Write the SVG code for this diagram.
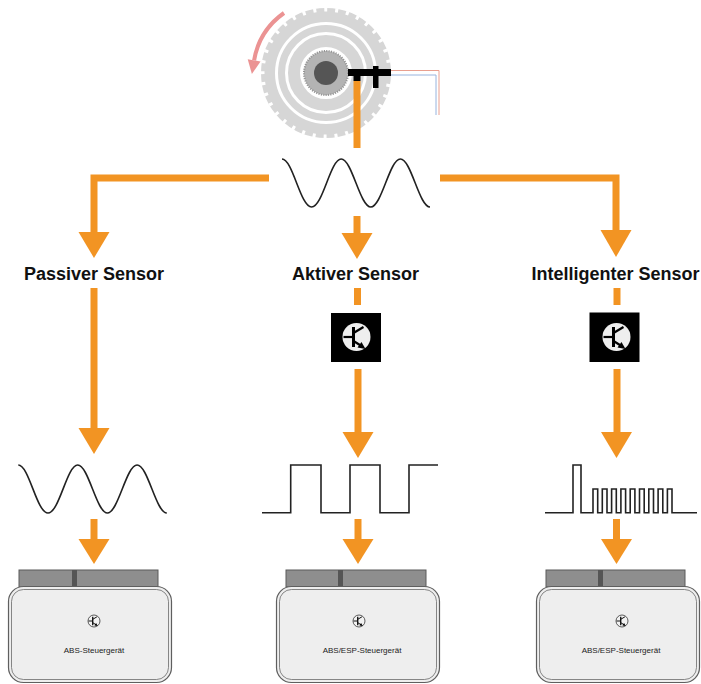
<svg xmlns="http://www.w3.org/2000/svg" xmlns:xlink="http://www.w3.org/1999/xlink" width="701" height="684" viewBox="0 0 701 684">
  <style>
    .flow { fill: none; stroke: #F29423; stroke-width: 7; stroke-linejoin: miter; }
    .head { fill: #F29423; }
    .sig { fill: none; stroke: #222; stroke-width: 1.6; stroke-linejoin: miter; }
    .label { font-family: "Liberation Sans", Arial, sans-serif; font-weight: bold; font-size: 18px; fill: #111; text-anchor: middle; }
    .ecu-text { font-family: "Liberation Sans", Arial, sans-serif; font-size: 8px; fill: #222; text-anchor: middle; }
    .plug { fill: #8e8e8e; stroke: #5a5a5a; stroke-width: 1; }
    .plug-key { fill: #555; }
    .case { fill: #eeeeee; stroke: #5f5f5f; stroke-width: 1.2; }
    .case-inner { fill: none; stroke: #6a6a6a; stroke-width: 0.8; }
    .ring { fill: none; stroke: #d6d6d6; }
  </style>
  <defs>
    <!-- transistor glyph, centred on 0,0, drawn for a circle of radius 14 -->
    <g id="tr-glyph">
      <path d="M-13,0 H-3" stroke="#000" stroke-width="2.2" fill="none"/>
      <path d="M-3,-10 V10" stroke="#000" stroke-width="3" fill="none"/>
      <path d="M-3,-4 L7,-10" stroke="#000" stroke-width="2.2" fill="none"/>
      <path d="M-3,4 L5,9" stroke="#000" stroke-width="2.2" fill="none"/>
      <polygon points="9,12 1,10.5 5,5" fill="#000"/>
    </g>
    <!-- small icon used on the control units -->
    <g id="ecu-icon">
      <circle r="6" fill="#f2f2f2" stroke="#333" stroke-width="0.8"/>
      <use xlink:href="#tr-glyph" transform="scale(0.42)"/>
    </g>
  </defs>

  <!-- wheel with toothed ring and sensor -->
  <g id="wheel">
    <circle class="ring" cx="326" cy="73" r="58" stroke-width="14"/>
    <circle cx="326" cy="73" r="63.5" fill="none" stroke="#fff" stroke-width="4" stroke-dasharray="3 8"/>
    <circle class="ring" cx="326" cy="73" r="44.5" stroke-width="7"/>
    <circle class="ring" cx="326" cy="73" r="32" stroke-width="12"/>
    <circle cx="326" cy="73" r="22" fill="#b3b3b3" stroke="#959595" stroke-width="2" stroke-dasharray="1.2 1.2"/>
    <circle cx="326" cy="73" r="12" fill="#555"/>
    <!-- rotation direction -->
    <path d="M284,13 A73,73 0 0 0 254.1,60.3" fill="none" stroke="#eb9393" stroke-width="4"/>
    <polygon points="251.9,74 260.5,61.4 247.7,59.2" fill="#eb9393"/>
  </g>

  <g id="sensor">
    <path d="M391,70.5 H439 V115" fill="none" stroke="#e9a090" stroke-width="1"/>
    <path d="M391,75 H436 V115" fill="none" stroke="#98b4de" stroke-width="1"/>
    <rect x="348" y="69" width="43" height="7" fill="#000"/>
    <rect x="373" y="66" width="5.5" height="22" fill="#000"/>
    <rect x="353.5" y="75" width="7" height="6" fill="#000"/>
  </g>

  <!-- connectors -->
  <g id="connectors">
    <path class="flow" d="M357,81 V148"/>
    <path class="flow" d="M269,178 H94 V233"/>
    <polygon class="head" points="78.5,232 109.5,232 94,258"/>
    <path class="flow" d="M440,178 H616 V231"/>
    <polygon class="head" points="600.5,230 631.5,230 616,257"/>
    <path class="flow" d="M357,216 V234"/>
    <polygon class="head" points="341.5,233 372.5,233 357,259"/>

    <path class="flow" d="M94,288 V429"/>
    <polygon class="head" points="78.5,428 109.5,428 94,454"/>
    <path class="flow" d="M94,519 V540"/>
    <polygon class="head" points="78.5,539 109.5,539 94,564"/>

    <path class="flow" d="M357.5,288 V305"/>
    <path class="flow" d="M358,369 V433"/>
    <polygon class="head" points="342.5,432 373.5,432 358,458"/>
    <path class="flow" d="M358,519 V540"/>
    <polygon class="head" points="342.5,539 373.5,539 358,564"/>

    <path class="flow" d="M617,288 V305"/>
    <path class="flow" d="M617,369 V433"/>
    <polygon class="head" points="601,432 632,432 616.5,458"/>
    <path class="flow" d="M616.5,519 V540"/>
    <polygon class="head" points="601,539 632,539 616.5,564"/>
  </g>

  <!-- raw sensor signal -->
  <g id="signal-wheel">
    <path class="sig" d="M282,159 C292.8,159 300.4,207 311.6,207 S330.4,159 341.2,159 S360,207 370.8,207 S389.6,159 400.4,159 S419.2,207 430,207"/>
  </g>

  <g id="label-passive"><text class="label" x="94" y="280">Passiver Sensor</text></g>
  <g id="label-active"><text class="label" x="355.5" y="280">Aktiver Sensor</text></g>
  <g id="label-smart"><text class="label" x="615.5" y="280">Intelligenter Sensor</text></g>

  <g id="ic-active">
    <rect x="331" y="313" width="50" height="49" fill="#000"/>
    <circle cx="356.5" cy="337" r="14" fill="#eeeeee"/>
    <use xlink:href="#tr-glyph" x="356.5" y="337"/>
  </g>
  <g id="ic-smart">
    <rect x="589.5" y="312.5" width="50" height="49.5" fill="#000"/>
    <circle cx="616.5" cy="337" r="14" fill="#eeeeee"/>
    <use xlink:href="#tr-glyph" x="616.5" y="337"/>
  </g>

  <!-- output signals -->
  <g id="signal-passive">
    <path class="sig" d="M18.3,465 C29.1,465 36.7,513 48,513 S66.9,465 77.7,465 S96.6,513 107.4,513 S126.3,465 137.1,465 S156,513 166.8,513"/>
  </g>
  <g id="signal-active">
    <path class="sig" d="M262,512.7 H290.7 V465 H321 V512.7 H350 V465 H380 V512.7 H409 V465 H438"/>
  </g>
  <g id="signal-smart">
    <path class="sig" d="M545,512.7 H573 V465 H581 V512.7 H593 V489 H597.7 V512.7 H602.3 V489 H607 V512.7 H611.6 V489 H616.3 V512.7 H620.9 V489 H625.6 V512.7 H630.2 V489 H634.9 V512.7 H639.5 V489 H644.2 V512.7 H648.8 V489 H653.5 V512.7 H658.1 V489 H662.8 V512.7 H667.4 V489 H672 V512.7 H697"/>
  </g>

  <!-- control units -->
  <g id="ecu-abs">
    <rect class="plug" x="19" y="570" width="139" height="17"/>
    <rect class="plug-key" x="72" y="570" width="5" height="17"/>
    <rect class="case" x="8.5" y="586.5" width="163" height="96" rx="15"/>
    <rect class="case-inner" x="11.5" y="589.5" width="157" height="90" rx="12"/>
    <use xlink:href="#ecu-icon" x="94" y="621"/>
    <text class="ecu-text" x="94" y="653">ABS-Steuergerät</text>
  </g>
  <g id="ecu-abs-esp-1">
    <rect class="plug" x="286" y="570" width="140" height="17"/>
    <rect class="plug-key" x="338" y="570" width="5" height="17"/>
    <rect class="case" x="276.5" y="586.5" width="163" height="96" rx="15"/>
    <rect class="case-inner" x="279.5" y="589.5" width="157" height="90" rx="12"/>
    <use xlink:href="#ecu-icon" x="359" y="621"/>
    <text class="ecu-text" x="362" y="653">ABS/ESP-Steuergerät</text>
  </g>
  <g id="ecu-abs-esp-2">
    <rect class="plug" x="546" y="570" width="139" height="17"/>
    <rect class="plug-key" x="598" y="570" width="5" height="17"/>
    <rect class="case" x="536.5" y="586.5" width="163" height="96" rx="15"/>
    <rect class="case-inner" x="539.5" y="589.5" width="157" height="90" rx="12"/>
    <use xlink:href="#ecu-icon" x="622" y="621"/>
    <text class="ecu-text" x="621" y="653">ABS/ESP-Steuergerät</text>
  </g>
</svg>
